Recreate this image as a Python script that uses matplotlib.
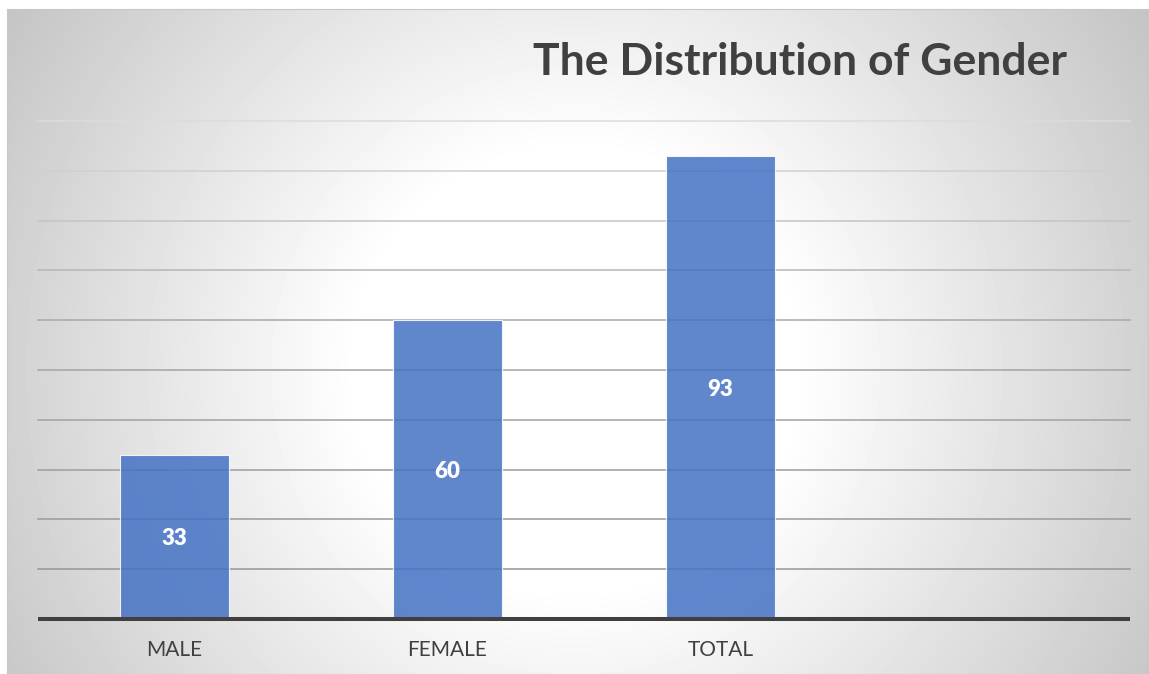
import numpy as np
import matplotlib.pyplot as plt

categories = ['MALE', 'FEMALE', 'TOTAL', '']
counts = [33, 60, 93, None]
title = 'The Distribution of Gender'
y_ticks = [10, 20, 30, 40, 50, 60, 70, 80, 90, 100]

W, H = 1149, 674
fig = plt.figure(figsize=(W / 100, H / 100), dpi=100)
fig.patch.set_facecolor('white')

# radial grey background of the chart area
x0, y0, x1, y1 = 7, 9, 1148, 674
bg = fig.add_axes([x0 / W, 1 - y1 / H, (x1 - x0) / W, (y1 - y0) / H])
xx, yy = np.meshgrid(np.arange(x0, x1), np.arange(y0, y1))
r = np.hypot(xx - 575, yy - 370)
shade = 255 - 0.13 * np.clip(r - 220, 0, None)
shade = np.clip(shade, 190, 255) / 255.0
bg.imshow(shade, cmap='gray', vmin=0, vmax=1, aspect='auto', interpolation='bilinear')
bg.set_xticks([])
bg.set_yticks([])
for s in bg.spines.values():
    s.set_color('#c8c8c8')
    s.set_linewidth(0.8)

# plot area
ax_l, ax_r, ax_t, ax_b = 38, 1130, 121, 619
ax = fig.add_axes([ax_l / W, 1 - ax_b / H, (ax_r - ax_l) / W, (ax_b - ax_t) / H])
ax.patch.set_alpha(0)
ax.set_xlim(-0.5, len(categories) - 0.5)
ax.set_ylim(0, 100)

# gridlines fade out toward the top
grid_cols = np.interp(y_ticks, [10, 60, 80, 100], [150, 168, 196, 220])
for v, c in zip(y_ticks, grid_cols):
    g = c / 255.0
    ax.axhline(v, color=(g, g, g), lw=1.1, zorder=1, clip_on=False)

xs = [i for i, v in enumerate(counts) if v is not None]
vals = [v for v in counts if v is not None]
bars = ax.bar(xs, vals, width=0.4, color='#4472C4', alpha=0.85,
              edgecolor=(1, 1, 1, 0.6), linewidth=0.8, zorder=2)
for b, v in zip(bars, vals):
    ax.text(b.get_x() + b.get_width() / 2, v / 2, str(v), ha='center', va='center_baseline',
            color='white', fontsize=16, fontweight='heavy', family='Lato', zorder=3)

ax.axhline(0, color='#404040', lw=2.9, zorder=4, solid_capstyle='butt', clip_on=False)

for s in ax.spines.values():
    s.set_visible(False)
ax.set_yticks([])
ax.set_xticks(range(len(categories)))
ax.set_xticklabels(categories, fontsize=15, color='#404040', family='Lato')
ax.tick_params(axis='x', length=0, pad=15)

fig.text(800 / W, 1 - 62 / H, title, ha='center', va='center', fontsize=32,
         fontweight='bold', color='#404040', family='Lato')

fig.savefig('out.png', dpi=100)
